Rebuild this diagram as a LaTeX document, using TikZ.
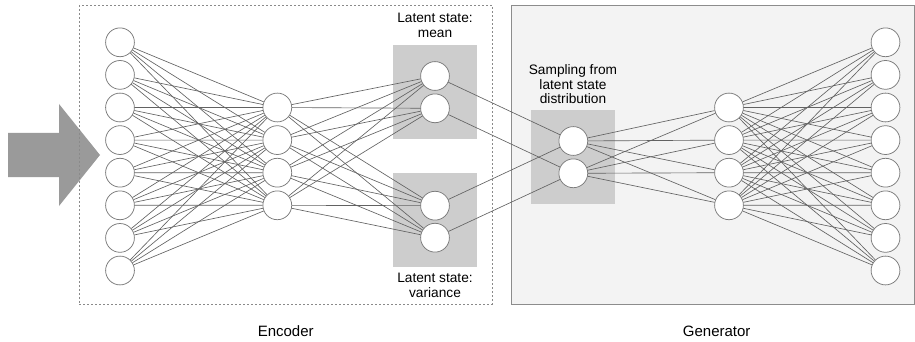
\documentclass[tikz,border=0pt]{standalone}
\usepackage{fontspec}
\setmainfont{Liberation Sans}
\definecolor{edgegray}{HTML}{626262}
\definecolor{circgray}{HTML}{7C7C7C}
\definecolor{boxgray}{HTML}{CDCDCD}
\definecolor{arrowgray}{HTML}{9A9A9A}
\definecolor{genfill}{HTML}{F3F3F3}
\definecolor{genline}{HTML}{8C8C8C}
\definecolor{dashline}{HTML}{8A8A8A}
\begin{document}
\begin{tikzpicture}[x=1pt,y=-1pt,
  neuron/.style={circle,draw=circgray,line width=0.75pt,fill=white,minimum size=28.8pt,inner sep=0pt},
  link/.style={draw=edgegray,line width=0.65pt},
  latentbox/.style={rectangle,fill=boxgray,draw=none,inner sep=0pt,minimum width=84pt,minimum height=94.3pt},
  lbl/.style={font=\fontsize{13.7}{14.6}\selectfont,align=center,inner sep=0pt},
  title/.style={font=\fontsize{15}{17}\selectfont,inner sep=0pt,anchor=base}]
\useasboundingbox (0,0) rectangle (915,342);

% input arrow
\fill[arrowgray] (8,133) -- (59,133) -- (59,104) -- (100,155) -- (59,206) -- (59,177) -- (8,177) -- cycle;

% encoder and generator frames
\node[rectangle,draw=dashline,line width=0.6pt,dash pattern=on 2pt off 2pt,inner sep=0pt,
      minimum width=413pt,minimum height=298.5pt] (encbox) at (285.5,154.75) {};
\node[rectangle,draw=genline,fill=genfill,line width=0.8pt,inner sep=0pt,
      minimum width=403pt,minimum height=298.5pt] (genbox) at (712.5,154.75) {};

% latent state regions
\node[latentbox] (meanbox) at (435,92.2) {};
\node[latentbox] (varbox) at (435,220.3) {};
\node[latentbox] (sampbox) at (573,157.2) {};

% labels
\node[lbl] (meanlbl) at (435,25.5) {Latent state:\\mean};
\node[lbl] (varlbl) at (435,285.5) {Latent state:\\variance};
\node[lbl] (samplbl) at (573,84.3) {Sampling from\\latent state\\distribution};
\node[title] (enclbl) at (285.7,336) {Encoder};
\node[title] (genlbl) at (716.7,336) {Generator};

% neurons
\foreach \i in {1,...,8}
  \node[neuron] (in\i) at (120,{42.3+32.6*(\i-1)}) {};
\foreach \i in {1,...,4}
  \node[neuron] (eh\i) at (277.3,{107.5+32.6*(\i-1)}) {};
\node[neuron] (mu1) at (435,76) {};
\node[neuron] (mu2) at (435,108.3) {};
\node[neuron] (va1) at (435,205.7) {};
\node[neuron] (va2) at (435,237.7) {};
\node[neuron] (sm1) at (573.3,141) {};
\node[neuron] (sm2) at (573.3,173.3) {};
\foreach \i in {1,...,4}
  \node[neuron] (gh\i) at (729,{107.5+32.6*(\i-1)}) {};
\foreach \i in {1,...,8}
  \node[neuron] (out\i) at (885.5,{42.3+32.6*(\i-1)}) {};

% connections
\foreach \i in {1,...,8}
  \foreach \j in {1,...,4}
    \draw[link] (in\i) -- (eh\j);
\foreach \j in {1,...,4}
  \foreach \k in {mu1,mu2,va1,va2}
    \draw[link] (eh\j) -- (\k);
\draw[link] (mu1) -- (sm1);
\draw[link] (mu2) -- (sm2);
\draw[link] (va1) -- (sm1);
\draw[link] (va2) -- (sm2);
\foreach \k in {1,2}
  \foreach \j in {1,...,4}
    \draw[link] (sm\k) -- (gh\j);
\foreach \j in {1,...,4}
  \foreach \i in {1,...,8}
    \draw[link] (gh\j) -- (out\i);
\end{tikzpicture}
\end{document}
